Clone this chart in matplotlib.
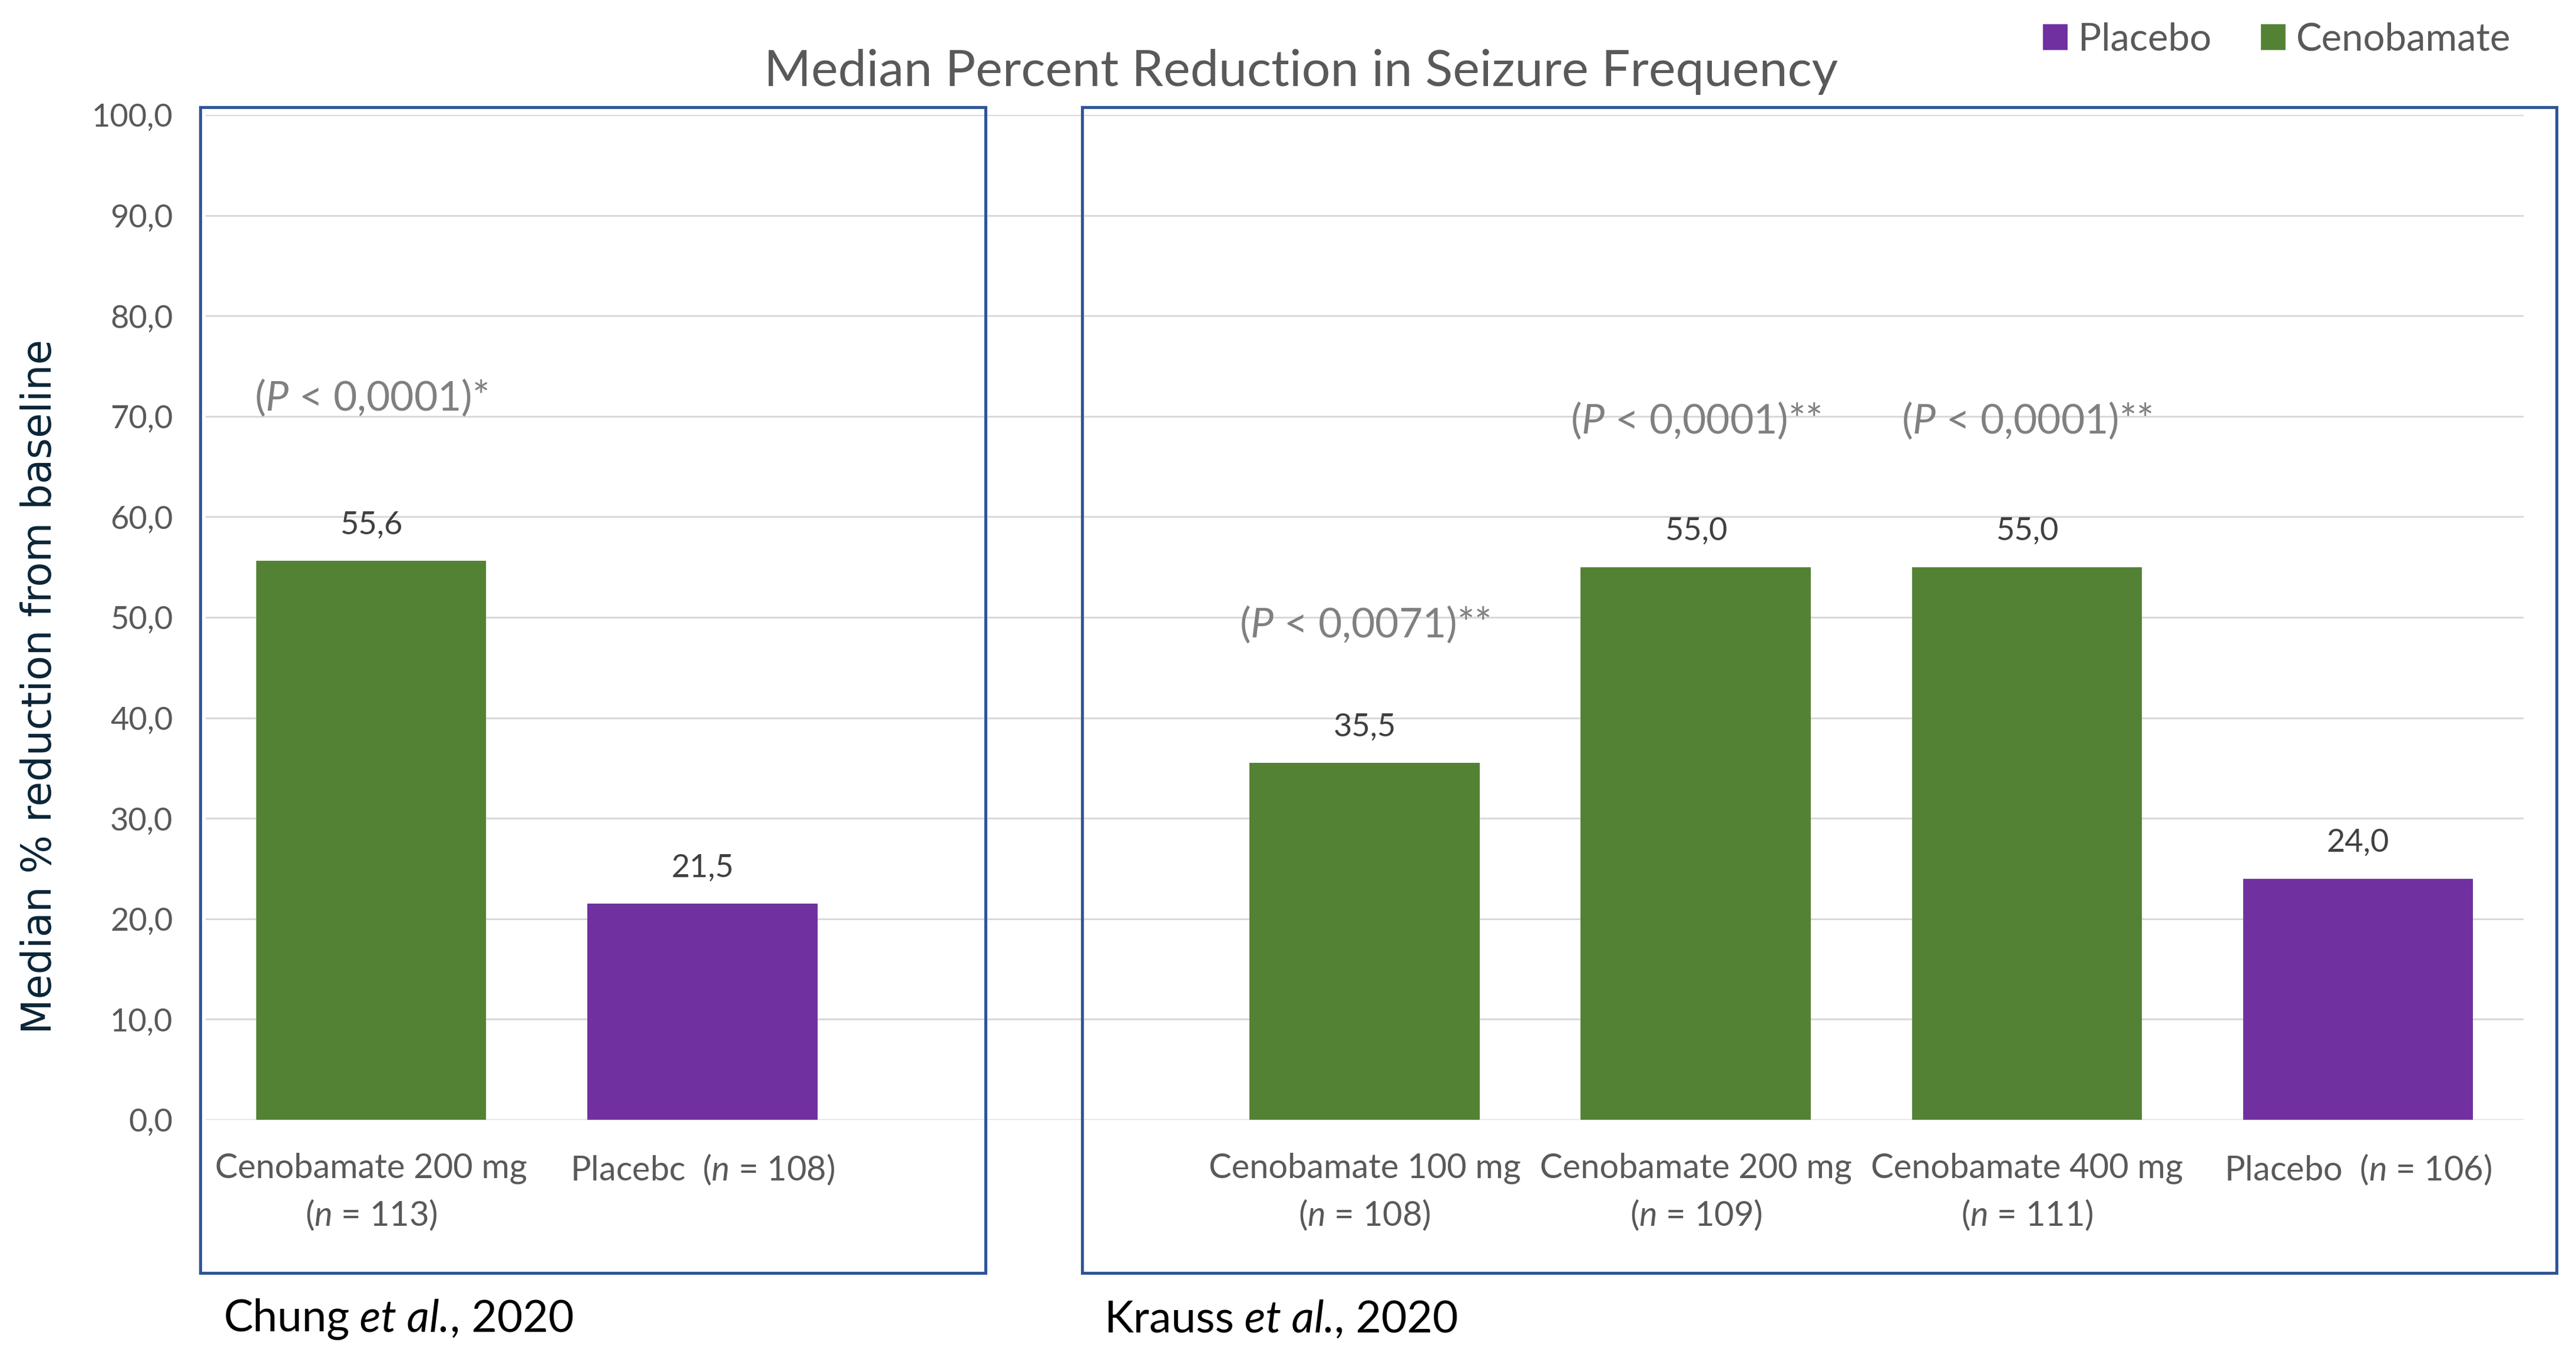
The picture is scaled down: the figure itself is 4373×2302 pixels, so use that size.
import matplotlib
matplotlib.use("Agg")
import matplotlib.pyplot as plt
import matplotlib.patches as mpatches
from matplotlib.offsetbox import TextArea, HPacker, AnchoredOffsetbox

GREEN  = "#548235"
PURPLE = "#7030A0"
BOX    = "#2F5597"
GRID   = "#D9D9D9"
TICK   = "#595959"
VALUE  = "#404040"
PGREY  = "#808080"
NAVY   = "#0B2537"

plt.rcParams.update({
    "font.family": ["Lato", "DejaVu Sans"],
    "mathtext.fontset": "custom",
    "mathtext.rm": "Lato",
    "mathtext.it": "Lato:italic",
})

# data -----------------------------------------------------------------
labels = [
    "Cenobamate 200 mg\n($\\mathit{n}$ = 113)",
    "Placebc  ($\\mathit{n}$ = 108)",
    "",
    "Cenobamate 100 mg\n($\\mathit{n}$ = 108)",
    "Cenobamate 200 mg\n($\\mathit{n}$ = 109)",
    "Cenobamate 400 mg\n($\\mathit{n}$ = 111)",
    "Placebo  ($\\mathit{n}$ = 106)",
]
slots = [0, 1, 3, 4, 5, 6]
values = [55.6, 21.5, 35.5, 55.0, 55.0, 24.0]
groups = ["Cenobamate", "Placebo", "Cenobamate", "Cenobamate", "Cenobamate", "Placebo"]

p_text = ["(P < 0,0001)*", "(P < 0,0071)**", "(P < 0,0001)**", "(P < 0,0001)**"]
p_slot = [0, 3, 4, 5]
p_y = [71.9, 49.3, 69.6, 69.6]

studies = ["Chung", "Krauss"]
years = ["2020", "2020"]

# figure ---------------------------------------------------------------
fig = plt.figure(figsize=(21.865, 11.51), dpi=200, facecolor="white")
ax = fig.add_axes([0.0798, 0.1742, 0.8999, 0.7411])

colors = [GREEN if g == "Cenobamate" else PURPLE for g in groups]
ax.bar(slots, values, width=0.695, color=colors, zorder=3)

for x, v in zip(slots, values):
    ax.annotate(f"{v:.1f}".replace(".", ","), (x, v), xytext=(0, 22),
                textcoords="offset points", ha="center", va="center",
                fontsize=19.5, color=VALUE)

for t, x, y in zip(p_text, p_slot, p_y):
    t = t.replace("P", "$\\mathit{P}$", 1)
    ax.text(x, y, t, ha="center", va="center", fontsize=25, color=PGREY)

ax.set_xlim(-0.5, len(labels) - 0.5)
ax.set_ylim(0, 100)
ax.set_yticks(range(0, 101, 10))
ax.set_yticklabels([f"{v:.1f}".replace(".", ",") for v in range(0, 101, 10)])
ax.set_xticks(range(len(labels)))
ax.set_xticklabels(labels)
ax.tick_params(axis="both", length=0, colors=TICK)
ax.tick_params(axis="y", labelsize=19.5, pad=20)
ax.tick_params(axis="x", labelsize=20.8, pad=20)
for lab in ax.get_xticklabels():
    lab.set_linespacing(1.5)
ax.grid(axis="y", color=GRID, lw=1.1, zorder=0)
ax.set_axisbelow(True)
for s in ax.spines.values():
    s.set_visible(False)

# study boxes
for x0, x1 in [(0.0777, 0.3826), (0.4201, 0.9925)]:
    fig.add_artist(mpatches.Rectangle((x0, 0.0613), x1 - x0, 0.9209 - 0.0613,
                                      transform=fig.transFigure, fill=False,
                                      edgecolor=BOX, lw=1.8, zorder=5))

# study captions with italic "et al."
for name, yr, x in zip(studies, years, [0.0867, 0.4285]):
    props = dict(fontsize=27, color="black")
    parts = [TextArea(name, textprops=props),
             TextArea(" et al.", textprops=dict(props, style="italic")),
             TextArea(", " + yr, textprops=props)]
    box = AnchoredOffsetbox(loc="center left", child=HPacker(children=parts, align="baseline", pad=0, sep=0),
                            bbox_to_anchor=(x, 0.027), bbox_transform=fig.transFigure,
                            frameon=False, pad=0, borderpad=0)
    fig.add_artist(box)

fig.text(0.505, 0.947, "Median Percent Reduction in Seizure Frequency",
         ha="center", va="center", fontsize=31, color=TICK)
fig.text(0.0155, 0.4935, "Median % reduction from baseline", rotation=90,
         ha="center", va="center", fontsize=24.8, color=NAVY,
         family="DejaVu Sans")

handles = [mpatches.Patch(color=PURPLE, label="Placebo"),
           mpatches.Patch(color=GREEN, label="Cenobamate")]
fig.legend(handles=handles, loc="center right", bbox_to_anchor=(0.988, 0.971),
           ncol=2, frameon=False, fontsize=23.5, handlelength=0.6,
           handleheight=0.6, handletextpad=0.3, columnspacing=1.3,
           labelcolor=TICK)

fig.savefig("out.png", dpi=200, facecolor="white")
